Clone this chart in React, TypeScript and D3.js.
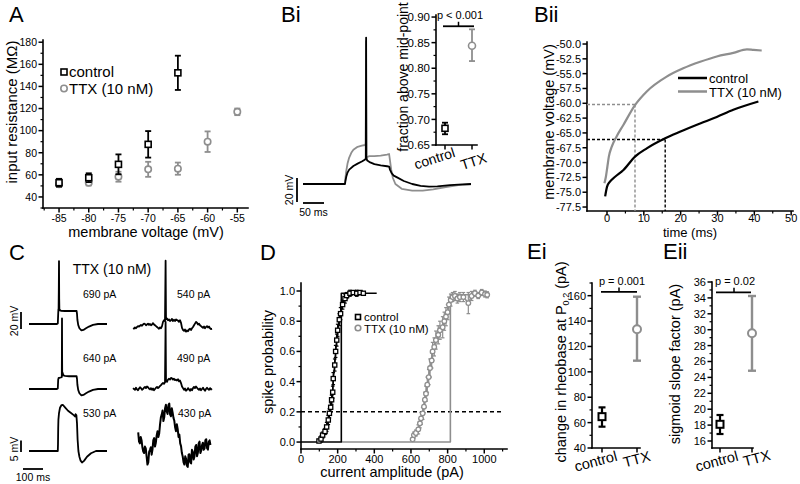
import React, { useEffect, useRef } from "react";
import * as d3 from "d3";

const FONT = "'Liberation Sans', Arial, Helvetica, sans-serif";
const GRAY = "#8e8e8e";

// ---------------- Panel A ----------------
const aCtrlV = [-85, -80, -75, -70, -65];
const aCtrlR = [52.9, 57.4, 69.5, 87.6, 152.3];
const aCtrlErr = [3.5, 4.0, 9.0, 12.0, 15.5];
const aTtxV = [-85, -80, -75, -70, -65, -60, -55];
const aTtxR = [51.5, 52.9, 58.3, 65.0, 65.6, 90.0, 117.0];
const aTtxErr = [2.5, 2.5, 4.5, 6.8, 5.5, 9.3, 3.0];
const aXTicks = [-85, -80, -75, -70, -65, -60, -55];
const aYTicks = [40, 60, 80, 100, 120, 140, 160, 180];

// ---------------- Panel Bi (traces) ----------------
const biCtrlT = [0, 100, 101, 103, 106, 110, 120, 130, 140, 148, 149.5, 150.3, 151, 153, 160, 170, 185, 200, 205, 207, 211, 216, 224, 240, 260, 280, 300, 320, 350, 380, 400];
const biCtrlV = [-75, -75, -72.5, -69, -65.5, -63, -60, -58, -56.3, -54.5, -53.6, 47, -53.5, -55.5, -57, -58.5, -59.5, -60.2, -60.5, -63, -66, -68, -69.5, -72.5, -75, -76.5, -77.2, -77, -76, -75.3, -75];
const biTtxT = [0, 100, 101, 103, 106, 110, 115, 120, 130, 140, 148, 149.3, 150, 150.7, 153, 158, 170, 185, 200, 205, 207, 210, 214, 220, 235, 260, 285, 310, 340, 370, 400];
const biTtxV = [-75, -75, -70, -64, -58, -53, -49, -46.5, -44, -43, -42.5, -41, 44, -54, -52.5, -51.8, -51.7, -51.3, -50.5, -50, -55, -63, -70, -75, -79, -80.5, -80.6, -79.5, -77.5, -76, -75.3];

// Bi inset
const biCats = ["control", "TTX"];
const biMeans = [0.6826, 0.844];
const biLow = [0.671, 0.814];
const biHigh = [0.6936, 0.876];
const biYTicks = [0.65, 0.7, 0.75, 0.8, 0.85, 0.9];

// ---------------- Panel Bii ----------------
const biiCtrlT = [-0.5, 0, 0.8, 2.2, 4.4, 7.6, 10.8, 15.8, 19.8, 25.3, 29.8, 34.3, 41.1];
const biiCtrlV = [-75.7, -74.1, -73.2, -72.4, -71.3, -69.0, -67.6, -65.9, -64.8, -63.4, -62.3, -61.1, -59.7];
const biiTtxT = [-0.7, -0.3, 0.1, 0.5, 1.3, 2.6, 4.4, 7.6, 10.8, 16.2, 20.7, 25.3, 29.8, 34.3, 38.0, 39.8, 42.0];
const biiTtxV = [-73.5, -72.4, -70.7, -69.0, -67.3, -65.6, -63.7, -60.3, -58.0, -55.5, -54.1, -53.0, -52.1, -51.5, -50.9, -51.0, -51.1];
const biiXTicks = [0, 10, 20, 30, 40, 50];
const biiYTicks = [-50, -52.5, -55, -57.5, -60, -62.5, -65, -67.5, -70, -72.5, -75, -77.5];
const biiTtxCross = [7.6, -60.2];
const biiCtrlCross = [15.8, -66.1];

// ---------------- Panel C ----------------
const cL1T = [0, 140, 144, 145, 146, 147, 148, 149, 150, 151, 152, 155, 160, 180, 210, 238, 240, 242, 246, 252, 262, 272, 285, 300, 320, 345, 390];
const cL1V = [0, 0, 0.5, 6, 12, 17, 18, 40, 74, 30, 16, 16.5, 15.5, 15.3, 15.3, 15.3, 12, 5, -1, -5, -7.5, -7, -5, -3, -1, 0, 0];
const cL2T = [0, 140, 144, 145, 146, 148, 152, 158, 164, 164.5, 165, 165.5, 166, 168, 172, 180, 200, 238, 240, 242, 246, 252, 262, 272, 285, 300, 320, 345, 390];
const cL2V = [0, 0, 0.5, 6, 11, 13, 13, 13.5, 14, 40, 83, 40, 20, 19, 16, 15.5, 15, 15, 12, 5, -1, -5, -7.5, -7, -5, -3, -1, 0, 0];
const cL3T = [0, 140, 144, 145, 146, 147, 150, 155, 162, 170, 180, 195, 210, 225, 230, 233, 237, 240, 243, 247, 252, 258, 265, 275, 290, 310, 335, 390];
const cL3V = [0, 0, 0, 3, 10, 13.5, 16.5, 18.8, 19.9, 20, 19, 17.5, 16.5, 15.5, 15, 16, 15.5, 12, 5, 0, -2.5, -4.2, -5, -4.3, -2.5, -1, 0, 0];
const cR1V = [-1.5, -2, -0.5, -1.5, 0, 1, 0.5, 1.5, 2.5, 1.5,
  3, 4, 3.5, 2, 3, 4, 2.5, 3.5, 2, 3,
  4.5, 3, 2, 1, 0, -1, -2, -0.5, -1.5, 1,
  6, 8, 7, 9, 10, 8, 9, 7, 8, 9.5,
  7, 8.5, 7, 9, 8, 7.5, 6, 8, 5, -1,
  -3.5, -4.5, -3, -5.5, -4, -5, -3, -2, -3.5, -1.5,
  0, 2, 4, 6, 5, 3, 4, 2, 1, 0,
  -1, 0.5, -1.5, 0, 1, -0.5, 0.5, -1.5, -2.5, -2];
const cR2V = [1, 0, -1, 1.5, -0.5, -1.5, 0.5, 2, 1, -1,
  0, 1.5, 2.5, 1, 3, 2, 0.5, -0.5, 1, -1,
  0.5, -1.5, 0, 1.5, 2.5, 1, 2, 3.5, 4.5, 6,
  7, 6, 8, 9, 8.5, 11, 12, 11, 13, 12.5,
  11, 12, 10.5, 11, 10, 11.5, 9, 10, 7, 3,
  1, -1, 0.5, -2, -1, 1, -0.5, -2, 0, -1.5,
  1, 2.5, 1, 3, 1.5, 0, -1, 0.5, -1.5, 0,
  1.5, -0.5, -2, 0, 1.5, 0, -1, 1, -0.5, 0.5];
const cR3V = [5.5, 1.5, 0.7, 3.5, 2.1, -1, -2.8, -3.5, -0.7, -1.5, -4.9, -8.5, -7.6, -3, -2.1, -1, -4.2, -2, 2.1, 3, -0.7, 1, 4.2, 6, 3.5, 5, 9.0, 12, 13.2, 15, 10.4, 12, 16.0, 17.5, 14.6, 13.5, 17.4, 18, 13.2, 12.5, 16.0, 14, 11.8, 10.5, 7.6, 6, 9.0, 7, 3.5, 4.5, 0.7, -0.5, -3.5, -5, -7.6, -8.5, -4.9, -6, -9.0, -9.5, -4.2, -4, -7.6, -8, -2.1, -3, -6.3, -5, -0.7, 0, -4.9, -3.5, 0.7, 1.5, -3.5, -2.5, 0, 1, -2.1, -1.5, 2.1, 2.5, -1.4, -2, 1.4, 2, 0];
const cR1Spike = [163, 78];
const cR2Spike = [163, 79];
const cLabelsL = ["690 pA", "640 pA", "530 pA"];
const cLabelsR = ["540 pA", "490 pA", "430 pA"];

// ---------------- Panel D ----------------
const dCtrlX = [98, 109, 118, 131, 140, 149, 155, 162, 167, 173, 176, 184, 189, 195, 200, 209, 216, 227, 240, 249, 267, 285, 304, 322, 340];
const dCtrlY = [0.007, 0.02, 0.046, 0.07, 0.10, 0.146, 0.19, 0.23, 0.28, 0.33, 0.42, 0.51, 0.60, 0.675, 0.74, 0.81, 0.85, 0.91, 0.95, 0.97, 0.985, 0.99, 0.985, 0.99, 0.985];
const dCtrlErr = [0.01, 0.02, 0.02, 0.02, 0.03, 0.03, 0.03, 0.03, 0.03, 0.04, 0.04, 0.04, 0.04, 0.04, 0.04, 0.04, 0.04, 0.03, 0.03, 0.02, 0.02, 0.01, 0.02, 0.01, 0.01];
const dTtxX = [609, 616, 627, 640, 649, 655, 664, 671, 676, 682, 689, 697, 704, 713, 718, 727, 736, 749, 758, 773, 782, 791, 800, 807, 817, 827, 840, 853, 867, 886, 913, 931, 949, 967, 986, 1004, 1016];
const dTtxY = [0.018, 0.046, 0.06, 0.084, 0.124, 0.157, 0.19, 0.234, 0.28, 0.32, 0.38, 0.43, 0.49, 0.54, 0.60, 0.63, 0.675, 0.71, 0.74, 0.76, 0.80, 0.83, 0.86, 0.91, 0.94, 0.96, 0.967, 0.95, 0.96, 0.96, 0.92, 0.967, 0.985, 0.97, 0.99, 0.98, 0.975];
const dTtxErr = [0.01, 0.02, 0.02, 0.03, 0.03, 0.04, 0.04, 0.04, 0.05, 0.05, 0.05, 0.05, 0.06, 0.05, 0.06, 0.06, 0.06, 0.06, 0.06, 0.07, 0.06, 0.06, 0.05, 0.05, 0.04, 0.03, 0.03, 0.03, 0.03, 0.03, 0.07, 0.03, 0.02, 0.02, 0.02, 0.02, 0.02];
const dCtrlStepX = [0, 220, 220, 413];
const dCtrlStepY = [0, 0, 0.985, 0.985];
const dTtxStepX = [220, 815, 815, 1000];
const dTtxStepY = [0, 0, 0.975, 0.975];
const dThreshold = 0.2;
const dXTicks = [0, 200, 400, 600, 800, 1000];
const dYTicks = [0, 0.2, 0.4, 0.6, 0.8, 1.0];

// ---------------- Panel E ----------------
const eCats = ["control", "TTX"];
const eiMeans = [64.7, 133.5];
const eiLow = [56.8, 108.8];
const eiHigh = [72.0, 159.2];
const eiYTicks = [40, 60, 80, 100, 120, 140, 160];
const eiSig = { level: 163, text: "p = 0.001" };
const eiiMeans = [18.1, 29.55];
const eiiLow = [16.88, 24.84];
const eiiHigh = [19.27, 34.24];
const eiiYTicks = [16, 18, 20, 22, 24, 26, 28, 30, 32, 34, 36];
const eiiSig = { level: 34.7, text: "p = 0.02" };
const biSig = { level: 0.882, text: "p < 0.001" };

type G = d3.Selection<SVGGElement, unknown, null, undefined>;

function ln(g: G, x1: number, y1: number, x2: number, y2: number, stroke = "#000", w = 1.5, dash?: string) {
  const l = g.append("line").attr("x1", x1).attr("y1", y1).attr("x2", x2).attr("y2", y2)
    .attr("stroke", stroke).attr("stroke-width", w);
  if (dash) l.attr("stroke-dasharray", dash);
  return l;
}
function tx(g: G, x: number, y: number, s: string, size = 11, anchor = "start", fill = "#000") {
  return g.append("text").attr("x", x).attr("y", y).attr("font-size", size).attr("text-anchor", anchor)
    .attr("fill", fill).attr("font-family", FONT).text(s);
}
function rtx(g: G, x: number, y: number, s: string, size: number, angle: number) {
  return g.append("text").attr("transform", `translate(${x},${y}) rotate(${angle})`)
    .attr("font-size", size).attr("text-anchor", "middle").attr("font-family", FONT).text(s);
}
function yAxis(g: G, y: d3.ScaleLinear<number, number>, x0: number, majors: number[], minors: number[], fmt: (v: number) => string, fs = 11) {
  const [b, t] = y.range();
  ln(g, x0, b, x0, t, "#000", 1.6).attr("stroke-linecap", "square");
  minors.forEach((v) => ln(g, x0 - 2.5, y(v), x0, y(v), "#000", 1.2));
  majors.forEach((v) => {
    ln(g, x0 - 4.5, y(v), x0, y(v), "#000", 1.5);
    tx(g, x0 - 6, y(v) + fs * 0.36, fmt(v), fs, "end");
  });
}
function xAxis(g: G, x: d3.ScaleLinear<number, number>, y0: number, majors: number[], minors: number[], fmt: (v: number) => string, fs = 11, dy = 14) {
  const [l, r] = x.range();
  ln(g, l, y0, r, y0, "#000", 1.6).attr("stroke-linecap", "square");
  minors.forEach((v) => ln(g, x(v), y0, x(v), y0 + 2.5, "#000", 1.2));
  majors.forEach((v) => {
    ln(g, x(v), y0, x(v), y0 + 4.5, "#000", 1.5);
    tx(g, x(v), y0 + dy, fmt(v), fs, "middle");
  });
}
function sq(g: G, cx: number, cy: number, s = 6, stroke = "#000", w = 1.6) {
  g.append("rect").attr("x", cx - s / 2).attr("y", cy - s / 2).attr("width", s).attr("height", s)
    .attr("fill", "#fff").attr("stroke", stroke).attr("stroke-width", w);
}
function circ(g: G, cx: number, cy: number, r = 3.2, stroke = GRAY, w = 1.6) {
  g.append("circle").attr("cx", cx).attr("cy", cy).attr("r", r).attr("fill", "#fff").attr("stroke", stroke).attr("stroke-width", w);
}
function errBar(g: G, x: number, y1: number, y2: number, stroke: string, w = 1.8, cap = 3) {
  ln(g, x, y1, x, y2, stroke, w);
  ln(g, x - cap, y1, x + cap, y1, stroke, w);
  ln(g, x - cap, y2, x + cap, y2, stroke, w);
}
function pathOf(g: G, pts: [number, number][], stroke: string, w: number, curve: d3.CurveFactory = d3.curveLinear) {
  const gen = d3.line<[number, number]>().x((d) => d[0]).y((d) => d[1]).curve(curve);
  return g.append("path").attr("d", gen(pts) || "").attr("fill", "none").attr("stroke", stroke)
    .attr("stroke-width", w).attr("stroke-linejoin", "round");
}
function minorsBetween(ticks: number[], step: number, lo: number, hi: number) {
  const out: number[] = [];
  for (let v = lo; v <= hi + 1e-9; v += step) {
    if (!ticks.some((t) => Math.abs(t - v) < 1e-6)) out.push(+v.toFixed(4));
  }
  return out;
}

export default function App() {
  const ref = useRef<SVGSVGElement>(null);
  useEffect(() => {
    const svg = d3.select(ref.current);
    svg.selectAll("*").remove();
    const root = svg.append("g").attr("font-family", FONT) as unknown as G;

    const letter = (x: number, y: number, s: string) => tx(root, x, y, s, 22);

    // ===== Panel A =====
    {
      const g = root.append("g") as G;
      const x = d3.scaleLinear().domain([-87.7, -53.2]).range([43, 248]);
      const y = d3.scaleLinear().domain([30, 182]).range([208, 40]);
      yAxis(g, y, 43, aYTicks, minorsBetween(aYTicks, 10, 30, 180), (v) => String(v), 10.5);
      xAxis(g, x, 208, aXTicks, minorsBetween(aXTicks, 2.5, -87.5, -53.5), (v) => String(v), 10.5, 14);
      aTtxV.forEach((v, i) => {
        errBar(g, x(v), y(aTtxR[i] + aTtxErr[i]), y(aTtxR[i] - aTtxErr[i]), GRAY, 1.8, 3);
        circ(g, x(v), y(aTtxR[i]));
      });
      aCtrlV.forEach((v, i) => {
        errBar(g, x(v), y(aCtrlR[i] + aCtrlErr[i]), y(aCtrlR[i] - aCtrlErr[i]), "#000", 1.8, 3);
        sq(g, x(v), y(aCtrlR[i]));
      });
      sq(g, 64, 72);
      tx(g, 69, 77, "control", 15);
      circ(g, 64, 88.5);
      tx(g, 69, 94, "TTX (10 nM)", 15);
      rtx(g, 17, 112, "input resistance (MΩ)", 15, -90);
      tx(g, 146, 237, "membrane voltage (mV)", 14.5, "middle");
      letter(9, 22, "A");
    }

    // ===== Panel Bi =====
    {
      const g = root.append("g") as G;
      const x = d3.scaleLinear().domain([0, 400]).range([303, 471]);
      const y = d3.scaleLinear().domain([-75, -55]).range([184, 160]);
      pathOf(g, biTtxT.map((t, i) => [x(t), y(biTtxV[i])] as [number, number]), GRAY, 1.8);
      pathOf(g, biCtrlT.map((t, i) => [x(t), y(biCtrlV[i])] as [number, number]), "#000", 1.8);
      // scale bars (20 mV, 50 ms)
      const barH = y(-75) - y(-55);
      ln(g, 297, 202, 297, 202 - barH, "#000", 1.8);
      ln(g, x(0), 203, x(50), 203, "#000", 1.8);
      rtx(g, 293, 190, "20 mV", 10.5, -90);
      tx(g, (x(0) + x(50)) / 2, 216, "50 ms", 10.5, "middle");

      // inset
      const iy = d3.scaleLinear().domain([0.65, 0.904]).range([145, 15]);
      const ix = [445, 472];
      yAxis(g, iy, 436, biYTicks, minorsBetween(biYTicks, 0.025, 0.65, 0.9), (v) => v.toFixed(2), 11.5);
      ln(g, 436, 145, 477, 145, "#000", 1.6).attr("stroke-linecap", "square");
      ix.forEach((cx) => ln(g, cx, 145, cx, 149.5, "#000", 1.5));
      errBar(g, ix[0], iy(biHigh[0]), iy(biLow[0]), "#000", 1.8, 3);
      sq(g, ix[0], iy(biMeans[0]));
      errBar(g, ix[1], iy(biHigh[1]), iy(biLow[1]), GRAY, 1.8, 3);
      circ(g, ix[1], iy(biMeans[1]), 3.5);
      ln(g, 443, iy(biSig.level), 474, iy(biSig.level), "#000", 1.8);
      ln(g, (443 + 474) / 2, iy(biSig.level), (443 + 474) / 2, iy(biSig.level) - 4.5, "#000", 1.5);
      tx(g, 460, 19, biSig.text, 11, "middle");
      rtx(g, 436, 163, biCats[0], 14, -18);
      rtx(g, 475, 166, biCats[1], 14, -18);
      rtx(g, 408, 77, "fraction above mid-point", 14, -90);
      letter(281, 22, "Bi");
    }

    // ===== Panel Bii =====
    {
      const g = root.append("g") as G;
      const x = d3.scaleLinear().domain([-5.43, 50.5]).range([587, 793]);
      const y = d3.scaleLinear().domain([-78.17, -49.66]).range([211, 42]);
      yAxis(g, y, 587, biiYTicks, [], (v) => v.toFixed(1), 11);
      xAxis(g, x, 211, biiXTicks, [5, 15, 25, 35, 45], (v) => String(v), 11, 10.5);
      // dashed guides
      ln(g, 587, y(biiTtxCross[1]), x(biiTtxCross[0]), y(biiTtxCross[1]), GRAY, 1.4, "3,2");
      ln(g, x(biiTtxCross[0]), y(biiTtxCross[1]), x(biiTtxCross[0]), 211, GRAY, 1.4, "3,2");
      ln(g, 587, y(biiCtrlCross[1]), x(biiCtrlCross[0]), y(biiCtrlCross[1]), "#000", 1.4, "3,2");
      ln(g, x(biiCtrlCross[0]), y(biiCtrlCross[1]), x(biiCtrlCross[0]), 211, "#000", 1.4, "3,2");
      pathOf(g, biiTtxT.map((t, i) => [x(t), y(biiTtxV[i])] as [number, number]), GRAY, 2.2, d3.curveMonotoneX);
      pathOf(g, biiCtrlT.map((t, i) => [x(t), y(biiCtrlV[i])] as [number, number]), "#000", 2.2, d3.curveMonotoneX);
      ln(g, 678, 78, 707, 78, "#000", 2.5);
      tx(g, 709, 82.5, "control", 13);
      ln(g, 678, 91.5, 707, 91.5, GRAY, 2.5);
      tx(g, 709, 97, "TTX (10 nM)", 13);
      rtx(g, 554, 122, "membrane voltage (mV)", 14.5, -90);
      tx(g, 690, 236.5, "time (ms)", 13, "middle");
      letter(534, 22, "Bii");
    }

    // ===== Panel C =====
    {
      const g = root.append("g") as G;
      const xl = d3.scaleLinear().domain([0, 390]).range([29, 107]);
      const xr = d3.scaleLinear().domain([0, 390]).range([133, 211]);
      const row = (base: number, k: number) => d3.scaleLinear().domain([0, 1]).range([base, base - k]);
      const yL1 = row(324, 0.85), yL2 = row(389, 0.85), yL3 = row(451, 2.3);
      const yR1 = row(327, 0.85), yR2 = row(389, 0.85), yR3 = row(445, 2.3);
      const mk = (T: number[], V: number[], xs: d3.ScaleLinear<number, number>, ys: d3.ScaleLinear<number, number>) =>
        T.map((t, i) => [xs(t), ys(V[i])] as [number, number]);
      const noisy = (vals: number[], t0: number, dt: number, spike: number[] | null) => {
        const pts: [number, number][] = vals.map((v, i) => [t0 + i * dt, v]);
        if (spike) {
          const idx = pts.findIndex((p) => p[0] > spike[0]);
          pts.splice(idx, 0, [spike[0], spike[1]]);
        }
        return pts;
      };
      pathOf(g, mk(cL1T, cL1V, xl, yL1), "#000", 1.8);
      pathOf(g, mk(cL2T, cL2V, xl, yL2), "#000", 1.8);
      pathOf(g, mk(cL3T, cL3V, xl, yL3), "#000", 1.8);
      pathOf(g, noisy(cR1V, 0, 5, cR1Spike).map((p) => [xr(p[0]), yR1(p[1])] as [number, number]), "#000", 1.8);
      pathOf(g, noisy(cR2V, 0, 5, cR2Spike).map((p) => [xr(p[0]), yR2(p[1])] as [number, number]), "#000", 1.8);
      pathOf(g, noisy(cR3V, 26, 4.2, null).map((p) => [xr(p[0]), yR3(p[1])] as [number, number]), "#000", 2);
      tx(g, 83, 298, cLabelsL[0], 10.5);
      tx(g, 83, 362, cLabelsL[1], 10.5);
      tx(g, 83, 417, cLabelsL[2], 10.5);
      tx(g, 177, 298, cLabelsR[0], 10.5);
      tx(g, 177, 362, cLabelsR[1], 10.5);
      tx(g, 178, 417, cLabelsR[2], 10.5);
      tx(g, 112, 274, "TTX (10 nM)", 14, "middle");
      // scale bars
      ln(g, 21, yL1(0) + 5, 21, yL1(20) + 5, "#000", 1.8);
      ln(g, 21, yL3(0) + 1, 21, yL3(5) + 1, "#000", 1.8);
      ln(g, xl(-30), 469, xl(70), 469, "#000", 1.8);
      rtx(g, 18, 321, "20 mV", 10.5, -90);
      rtx(g, 18, 449, "5 mV", 10.5, -90);
      tx(g, 33, 481, "100 ms", 10.5, "middle");
      letter(9, 260, "C");
    }

    // ===== Panel D =====
    {
      const g = root.append("g") as G;
      const x = d3.scaleLinear().domain([0, 1124]).range([301, 507]);
      const y = d3.scaleLinear().domain([-0.046, 1.053]).range([449, 283]);
      yAxis(g, y, 301, dYTicks, [0.1, 0.3, 0.5, 0.7, 0.9], (v) => v.toFixed(1), 11);
      xAxis(g, x, 449, dXTicks, [100, 300, 500, 700, 900, 1100], (v) => String(v), 11, 14);
      ln(g, x(0), y(dThreshold), x(1100), y(dThreshold), "#000", 1.5, "4,3");
      pathOf(g, dTtxStepX.map((v, i) => [x(v), y(dTtxStepY[i])] as [number, number]), GRAY, 1.6);
      pathOf(g, dCtrlStepX.map((v, i) => [x(v), y(dCtrlStepY[i])] as [number, number]), "#000", 1.6);
      pathOf(g, dTtxX.map((v, i) => [x(v), y(dTtxY[i])] as [number, number]), GRAY, 1.6);
      dTtxX.forEach((v, i) => errBar(g, x(v), y(dTtxY[i] + dTtxErr[i]), y(dTtxY[i] - dTtxErr[i]), GRAY, 1.2, 1.8));
      dTtxX.forEach((v, i) => circ(g, x(v), y(dTtxY[i]), 2.3, GRAY, 1.3));
      pathOf(g, dCtrlX.map((v, i) => [x(v), y(dCtrlY[i])] as [number, number]), "#000", 1.6);
      dCtrlX.forEach((v, i) => errBar(g, x(v), y(dCtrlY[i] + dCtrlErr[i]), y(dCtrlY[i] - dCtrlErr[i]), "#000", 1.2, 1.8));
      dCtrlX.forEach((v, i) => sq(g, x(v), y(dCtrlY[i]), 4.2, "#000", 1.3));
      sq(g, 358, 317, 5, "#000", 1.6);
      tx(g, 364, 321, "control", 11.5);
      circ(g, 358, 328, 2.8, GRAY, 1.6);
      tx(g, 364, 332.5, "TTX (10 nM)", 11.5);
      rtx(g, 273, 362, "spike probability", 14.5, -90);
      tx(g, 392, 477, "current amplitude (pA)", 14.5, "middle");
      letter(260, 260, "D");
    }

    // ===== Panel Ei =====
    {
      const g = root.append("g") as G;
      const y = d3.scaleLinear().domain([40, 170]).range([448, 283]);
      const cx = [602, 637];
      yAxis(g, y, 592, eiYTicks, [50, 70, 90, 110, 130, 150, 170], (v) => String(v), 11);
      ln(g, 592, 448, 640, 448, "#000", 1.6).attr("stroke-linecap", "square");
      cx.forEach((c) => ln(g, c, 448, c, 452.5, "#000", 1.5));
      errBar(g, cx[1], y(eiHigh[1]), y(eiLow[1]), GRAY, 2.4, 4);
      circ(g, cx[1], y(eiMeans[1]), 4, GRAY, 2);
      errBar(g, cx[0], y(eiHigh[0]), y(eiLow[0]), "#000", 2.2, 3.5);
      sq(g, cx[0], y(eiMeans[0]), 7, "#000", 2);
      ln(g, 601, y(eiSig.level), 637, y(eiSig.level), "#000", 1.8);
      ln(g, 619, y(eiSig.level), 619, y(eiSig.level) - 4.5, "#000", 1.5);
      tx(g, 622, 285, eiSig.text, 11, "middle");
      rtx(g, 597, 466, eCats[0], 14.5, -15);
      rtx(g, 638, 464, eCats[1], 14.5, -15);
      const t = g.append("text").attr("transform", "translate(566,362) rotate(-90)").attr("text-anchor", "middle")
        .attr("font-size", 14.5).attr("font-family", FONT);
      t.append("tspan").text("change in rheobase at P");
      t.append("tspan").attr("dy", 3).attr("font-size", 9).text("0.2");
      t.append("tspan").attr("dy", -3).text(" (pA)");
      letter(527, 259, "Ei");
    }

    // ===== Panel Eii =====
    {
      const g = root.append("g") as G;
      const y = d3.scaleLinear().domain([15.12, 36]).range([448, 282]);
      const cx = [720, 752];
      yAxis(g, y, 712, eiiYTicks, [17, 19, 21, 23, 25, 27, 29, 31, 33, 35], (v) => String(v), 11);
      ln(g, 712, 448, 753, 448, "#000", 1.6).attr("stroke-linecap", "square");
      cx.forEach((c) => ln(g, c, 448, c, 452.5, "#000", 1.5));
      errBar(g, cx[1], y(eiiHigh[1]), y(eiiLow[1]), GRAY, 2.4, 4);
      circ(g, cx[1], y(eiiMeans[1]), 4, GRAY, 2);
      errBar(g, cx[0], y(eiiHigh[0]), y(eiiLow[0]), "#000", 2.2, 3.5);
      sq(g, cx[0], y(eiiMeans[0]), 7, "#000", 2);
      ln(g, 716, y(eiiSig.level), 751, y(eiiSig.level), "#000", 1.8);
      ln(g, 734, y(eiiSig.level), 734, y(eiiSig.level) - 4.5, "#000", 1.5);
      tx(g, 735, 285, eiiSig.text, 11, "middle");
      rtx(g, 718, 466, eCats[0], 14.5, -15);
      rtx(g, 758, 463, eCats[1], 14.5, -15);
      rtx(g, 680, 364, "sigmoid slope factor (pA)", 14.5, -90);
      letter(663, 259, "Eii");
    }
  }, []);
  return (
    <svg ref={ref} width={800} height={484}
      style={{ position: "absolute", left: 0, top: 0, display: "block", background: "#fff" }} />
  );
}
